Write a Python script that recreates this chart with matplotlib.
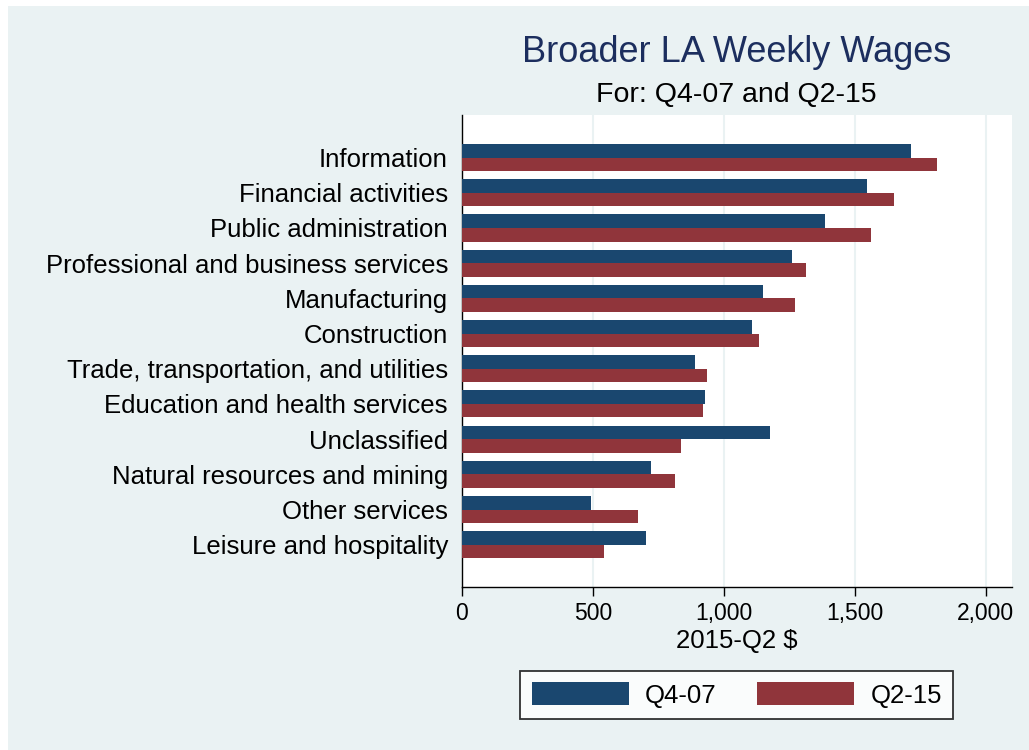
import numpy as np
import matplotlib
matplotlib.use("Agg")
import matplotlib.pyplot as plt
from matplotlib.patches import Rectangle

plt.rcParams["font.family"] = ["Liberation Sans", "DejaVu Sans"]

# data (weekly wages, 2015-Q2 $)
industries = [
    "Information",
    "Financial activities",
    "Public administration",
    "Professional and business services",
    "Manufacturing",
    "Construction",
    "Trade, transportation, and utilities",
    "Education and health services",
    "Unclassified",
    "Natural resources and mining",
    "Other services",
    "Leisure and hospitality",
]
wages_q4_07 = [1713, 1546, 1387, 1259, 1149, 1108, 889, 929, 1175, 722, 493, 702]
wages_q2_15 = [1812, 1648, 1560, 1313, 1273, 1136, 937, 920, 838, 813, 673, 543]
series_labels = ["Q4-07", "Q2-15"]
xticks = [0, 500, 1000, 1500, 2000]

BG = "#EAF2F3"
NAVY = "#1A476F"
MAROON = "#90353B"

W, H = 1029, 750
fig = plt.figure(figsize=(W / 100, H / 100), dpi=100)
fig.patch.set_facecolor("white")
# Stata-style light background, leaving a thin white strip top/left
fig.patches.append(Rectangle((8 / W, 0), 1, 1 - 6 / H, transform=fig.transFigure,
                             facecolor=BG, edgecolor="none", zorder=-10))

ax = fig.add_axes([461.8 / W, 1 - 587 / H, (1011.6 - 461.8) / W, (587 - 115) / H])
ax.set_facecolor("white")

y = np.arange(len(industries))
h = 0.384
ax.barh(y - h / 2, wages_q4_07, height=h, color=NAVY, label=series_labels[0], zorder=3)
ax.barh(y + h / 2, wages_q2_15, height=h, color=MAROON, label=series_labels[1], zorder=3)

ax.set_ylim(12.2, -1.21)
ax.set_xlim(0, 2098)
ax.set_yticks(y)
ax.set_yticklabels(industries, fontsize=18.5)
ax.tick_params(axis="y", length=0, pad=10)
ax.set_xticks(xticks)
ax.set_xticklabels([f"{v:,}" for v in xticks], fontsize=16.5)
ax.tick_params(axis="x", length=6.5, width=1, pad=4)
ax.grid(axis="x", color=BG, linewidth=1.5, zorder=0)
for s in ("top", "right"):
    ax.spines[s].set_visible(False)
for s in ("left", "bottom"):
    ax.spines[s].set_linewidth(1)
    ax.spines[s].set_color("black")
ax.set_xlabel("2015-Q2 $", fontsize=18.5, labelpad=3)

cx = (461.8 + 1011.6) / 2 / W
fig.text(cx, 1 - 53 / H, "Broader LA Weekly Wages", fontsize=26,
         color="#1C2E5E", ha="center", va="center")
fig.text(cx, 1 - 95 / H, "For: Q4-07 and Q2-15", fontsize=20.5,
         ha="center", va="center")

leg = fig.legend(loc="center", bbox_to_anchor=(cx, 1 - 695 / H), ncol=2,
                 fontsize=18.5, frameon=True, fancybox=False,
                 handlelength=3.8, handleheight=1.0, handletextpad=0.62,
                 columnspacing=1.56, borderpad=0.45)
leg.get_frame().set_edgecolor("black")
leg.get_frame().set_linewidth(1.3)
leg.get_frame().set_facecolor("white")

fig.savefig("out.png", dpi=100, facecolor=fig.get_facecolor())
